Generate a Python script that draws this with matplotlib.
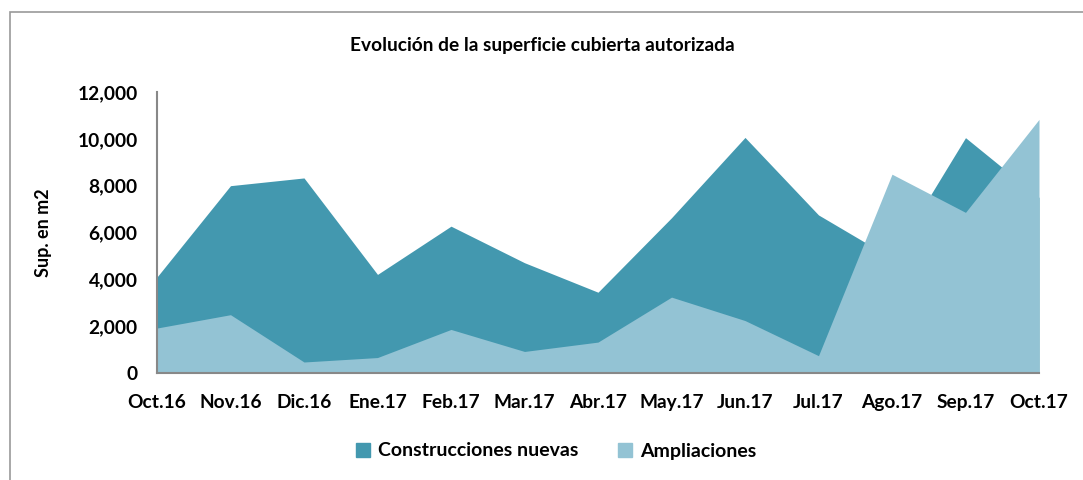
import numpy as np
import matplotlib
matplotlib.use('agg')
import matplotlib.pyplot as plt
from matplotlib.patches import Rectangle, Patch
from matplotlib.ticker import FuncFormatter

months = ['Oct.16', 'Nov.16', 'Dic.16', 'Ene.17', 'Feb.17', 'Mar.17', 'Abr.17',
          'May.17', 'Jun.17', 'Jul.17', 'Ago.17', 'Sep.17', 'Oct.17']
nuevas = [4100, 8000, 8330, 4210, 6270, 4710, 3450, 6630, 10060, 6750, 4900, 10050, 7500]
ampliaciones = [1920, 2490, 470, 660, 1860, 920, 1320, 3240, 2240, 740, 8490, 6860, 10830]

dark = '#4398AF'
light = '#93C3D4'

plt.rcParams['font.family'] = ['Lato', 'DejaVu Sans']
plt.rcParams['font.weight'] = 'bold'

fig = plt.figure(figsize=(10.83, 4.8), dpi=100)
ax = fig.add_axes([157/1083, 1-373/480, (1039-157)/1083, (373-92)/480])

x = np.arange(len(months))
ax.fill_between(x, 0, nuevas, color=dark, linewidth=0, label='Construcciones nuevas')
ax.fill_between(x, 0, ampliaciones, color=light, linewidth=0, label='Ampliaciones')

ax.set_xlim(0, len(months) - 1)
ax.set_ylim(0, 12000)
ax.set_yticks(np.arange(0, 12001, 2000))
ax.yaxis.set_major_formatter(FuncFormatter(lambda v, p: f'{int(v):,}'))
ax.set_xticks(x)
ax.set_xticklabels(months)
ax.tick_params(axis='both', length=0, labelsize=13.8)
ax.tick_params(axis='x', pad=15)
ax.tick_params(axis='y', pad=14)
for s in ['top', 'right']:
    ax.spines[s].set_visible(False)
for s in ['left', 'bottom']:
    ax.spines[s].set_color('#888888')
    ax.spines[s].set_linewidth(1.5)

ax.set_ylabel('Sup. en m2', fontsize=13, fontweight='bold', labelpad=18)
fig.text(542/1083, 1-46/480, 'Evolución de la superficie cubierta autorizada',
         ha='center', va='center', fontsize=13.8, fontweight='bold')

handles = [Patch(color=dark), Patch(color=light)]
fig.legend(handles, ['Construcciones nuevas', 'Ampliaciones'], loc='center',
           bbox_to_anchor=(556/1083, 1-451/480), ncol=2, frameon=False,
           fontsize=14, handlelength=0.75, handleheight=0.75, columnspacing=2.0,
           handletextpad=0.4)

fig.patches.append(Rectangle((10/1083, -0.1), 1.2, 1-12/480+0.1, transform=fig.transFigure,
                             fill=False, edgecolor='#999999', linewidth=1.2))

fig.savefig('out.png', dpi=100)
